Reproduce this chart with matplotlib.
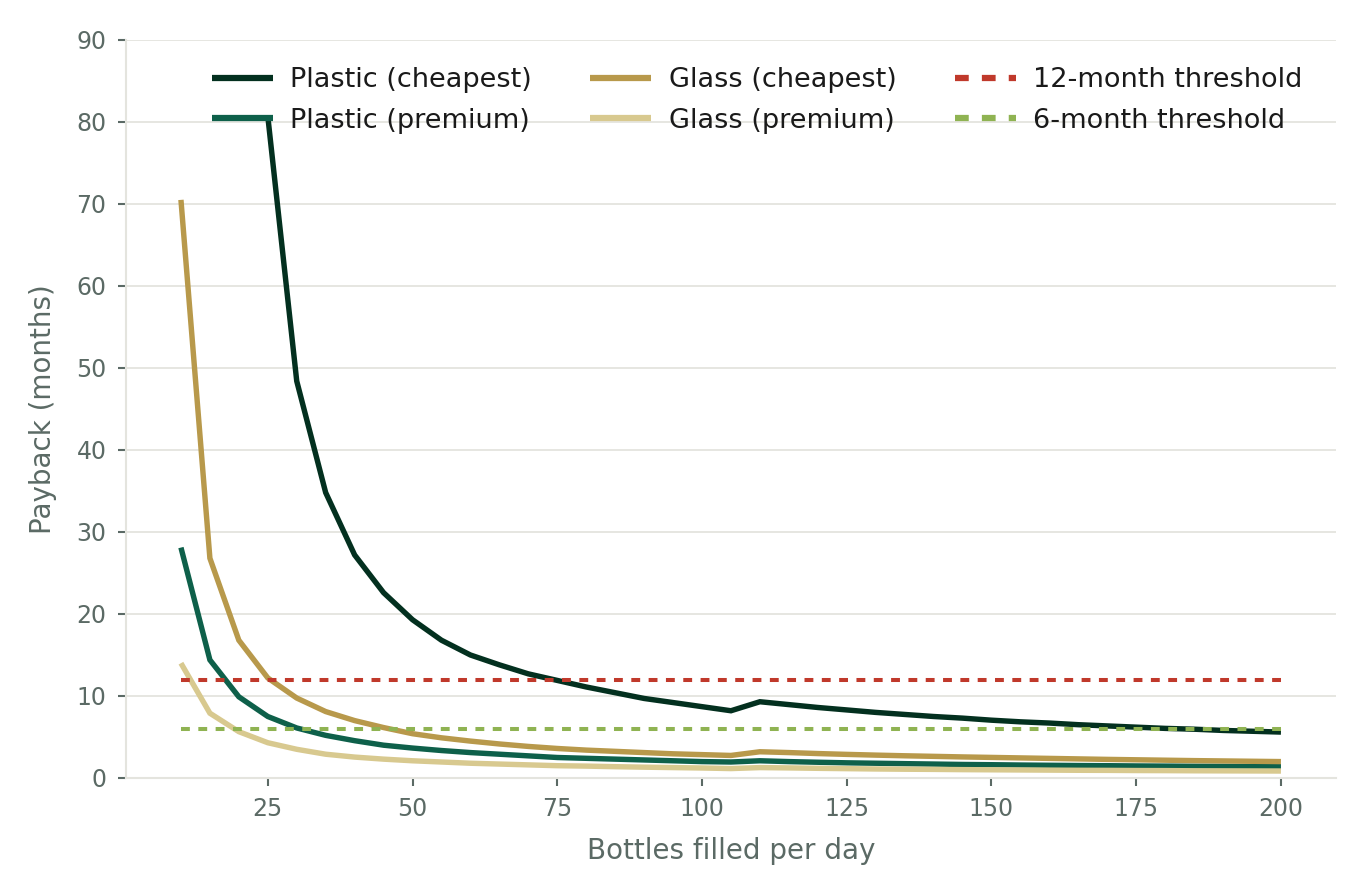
import numpy as np
from matplotlib import pyplot as plt

# bottles filled per day
bottles = list(range(10, 205, 5))

# payback in months (plastic cheapest starts at 25)
plastic_cheapest = [np.nan, np.nan, np.nan,
                    80.7, 48.4, 34.8, 27.2, 22.6, 19.3, 16.8, 15.0, 13.8, 12.7,
                    11.9, 11.1, 10.4, 9.7, 9.2, 8.7, 8.2,
                    9.3, 8.95, 8.6, 8.3, 8.0, 7.75, 7.5, 7.3, 7.05, 6.85,
                    6.7, 6.5, 6.35, 6.2, 6.05, 5.95, 5.8, 5.7, 5.6]
plastic_premium = [28.1, 14.4, 9.9, 7.5, 6.1, 5.2, 4.55, 4.0, 3.65, 3.35,
                   3.1, 2.9, 2.7, 2.5, 2.4, 2.3, 2.2, 2.1, 2.0, 1.95,
                   2.1, 2.0, 1.92, 1.85, 1.8, 1.75, 1.7, 1.65, 1.62, 1.58,
                   1.55, 1.52, 1.5, 1.47, 1.45, 1.43, 1.42, 1.4, 1.38]
glass_cheapest = [70.5, 26.8, 16.8, 12.2, 9.75, 8.1, 7.0, 6.15, 5.4, 4.9,
                  4.5, 4.15, 3.85, 3.6, 3.4, 3.25, 3.1, 2.95, 2.85, 2.75,
                  3.2, 3.1, 2.98, 2.88, 2.79, 2.71, 2.64, 2.57, 2.51, 2.45,
                  2.39, 2.33, 2.27, 2.22, 2.17, 2.12, 2.08, 2.04, 2.0]
glass_premium = [14.0, 7.9, 5.65, 4.3, 3.5, 2.9, 2.55, 2.3, 2.1, 1.95,
                 1.8, 1.7, 1.6, 1.5, 1.45, 1.38, 1.32, 1.27, 1.22, 1.15,
                 1.27, 1.23, 1.18, 1.14, 1.1, 1.07, 1.05, 1.02, 1.0, 0.98,
                 0.96, 0.94, 0.93, 0.91, 0.9, 0.88, 0.87, 0.86, 0.85]

series = [
    ("Plastic (cheapest)", plastic_cheapest, "#03301f"),
    ("Plastic (premium)", plastic_premium, "#0e604a"),
    ("Glass (cheapest)", glass_cheapest, "#b8994b"),
    ("Glass (premium)", glass_premium, "#d8c98f"),
]
thresholds = [("12-month threshold", 12, "#c0392b"), ("6-month threshold", 6, "#8fb352")]

text_grey = "#5b6a65"
grid_grey = "#e4e4de"

plt.rcParams["font.family"] = ["DejaVu Sans"]

fig = plt.figure(figsize=(13.66, 8.96), dpi=100)
ax = fig.add_axes([0.0922, 0.1317, 0.8858, 0.8237])

for label, values, color in series:
    ax.plot(bottles, values, color=color, linewidth=3.9, label=label,
            solid_capstyle="butt", solid_joinstyle="miter")

for label, level, color in thresholds:
    ax.plot([bottles[0], bottles[-1]], [level, level], color=color, linewidth=2.9,
            linestyle=(0, (2.2, 2.1)), dash_capstyle="butt", label=label)

ax.set_ylim(0, 90)
ax.set_yticks(range(0, 91, 10))
ax.set_xticks([25, 50, 75, 100, 125, 150, 175, 200])
ax.margins(x=0.05)

ax.grid(axis="y", color=grid_grey, linewidth=1.3)
ax.set_axisbelow(True)
for side in ["top", "right"]:
    ax.spines[side].set_visible(False)
for side in ["left", "bottom"]:
    ax.spines[side].set_color(grid_grey)
    ax.spines[side].set_linewidth(1.5)

ax.tick_params(axis="both", colors=text_grey, labelsize=17, length=6, width=1.5,
               pad=8)

ax.set_xlabel("Bottles filled per day", fontsize=20, color=text_grey, labelpad=11)
ax.set_ylabel("Payback (months)", fontsize=20, color=text_grey, labelpad=14)

leg = ax.legend(loc="upper right", ncol=3, frameon=False, fontsize=19.5,
                handlelength=2.25, handletextpad=0.65, columnspacing=2.15,
                labelspacing=0.55, borderaxespad=0.6, bbox_to_anchor=(0.995, 1.0))
for line in leg.get_lines():
    line.set_linewidth(4.5)
for txt in leg.get_texts():
    txt.set_color("#1a1a1a")

fig.savefig("out.png", dpi=100)
